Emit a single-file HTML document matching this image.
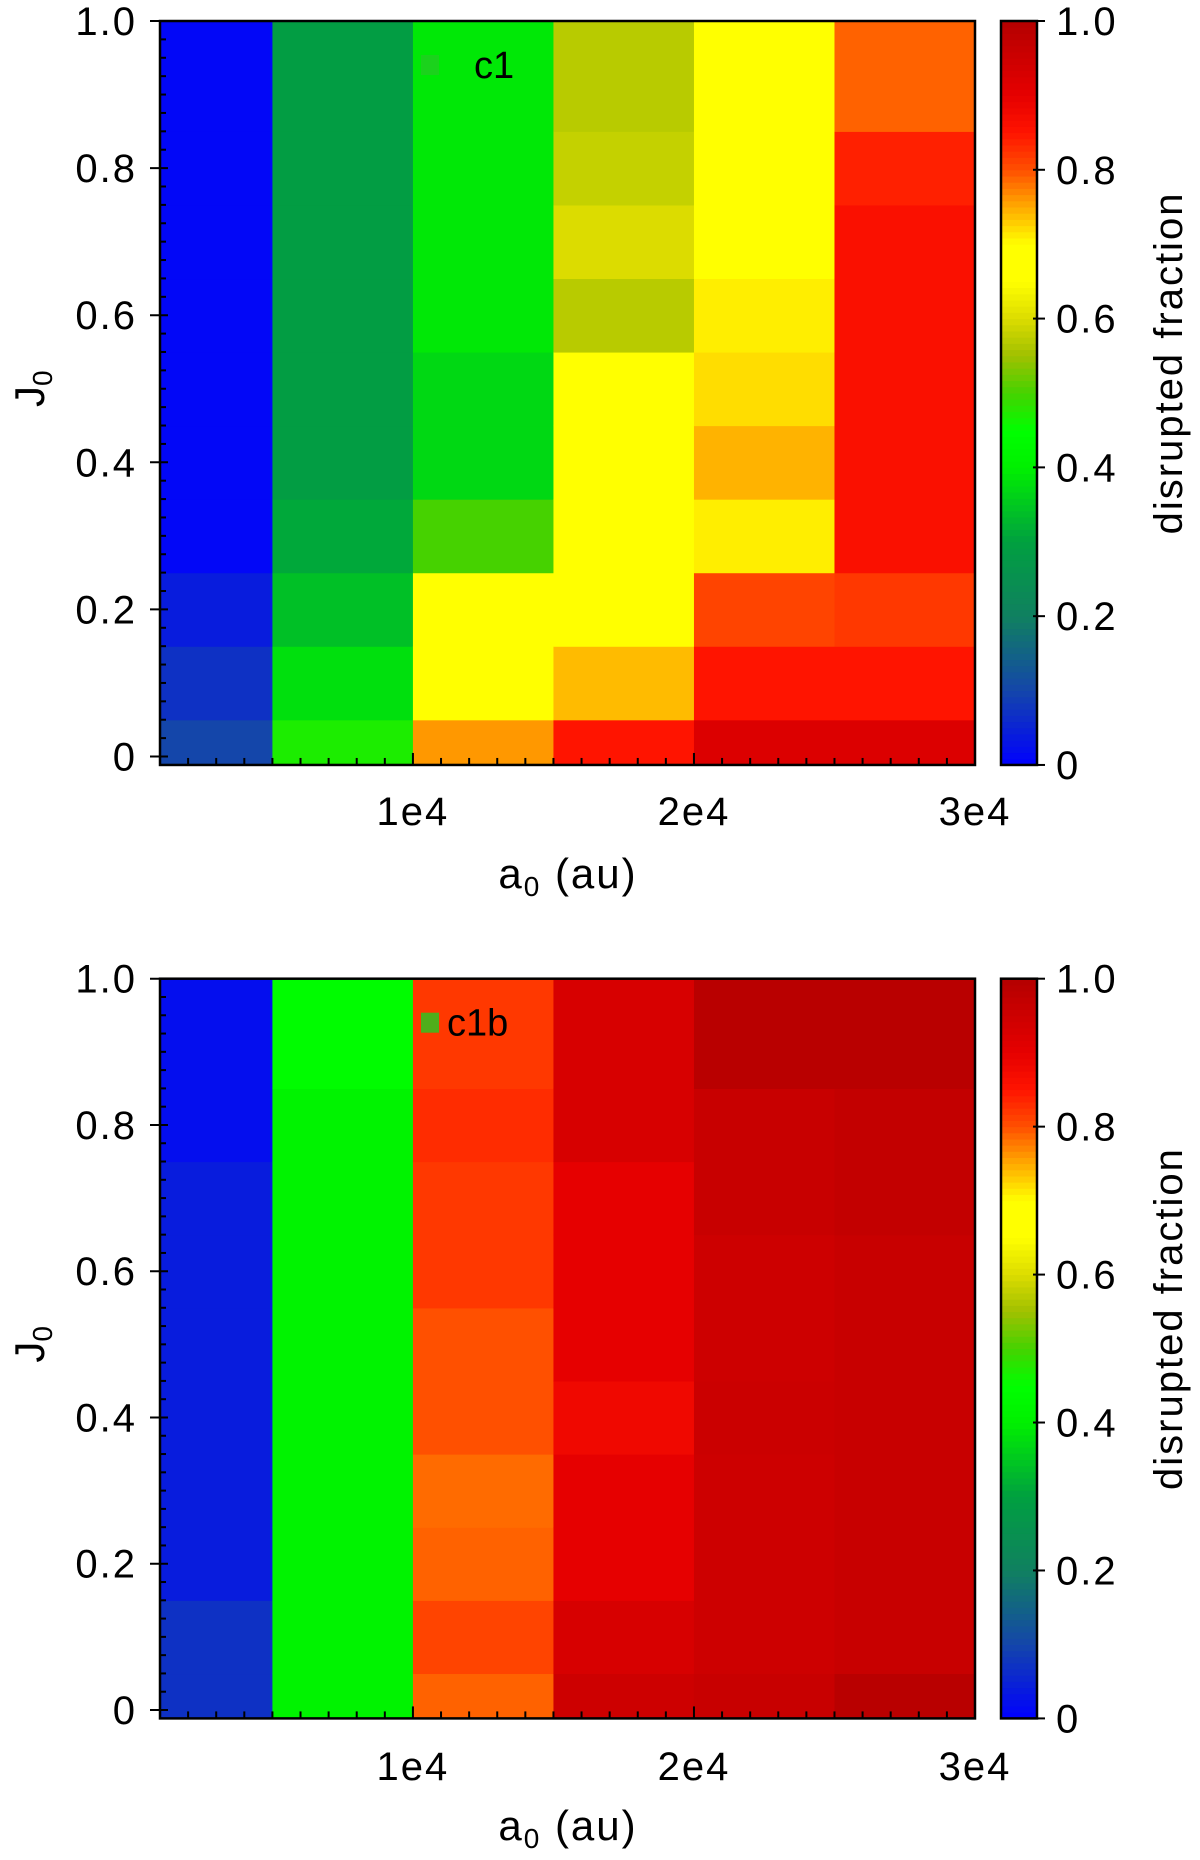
<!DOCTYPE html>
<html><head><meta charset="utf-8"><style>
html,body{margin:0;padding:0;background:#fff;}
svg{display:block;font-family:"Liberation Sans","DejaVu Sans",sans-serif;}
</style></head><body>
<svg id="fig" width="1200" height="1860" viewBox="0 0 1200 1860" xmlns="http://www.w3.org/2000/svg"></svg>
<script>
// ---- data ----
const colEdges = [1000, 5000, 10000, 15000, 20000, 25000, 30000];
const rowEdges = [-0.0115, 0.05, 0.15, 0.25, 0.35, 0.45, 0.55, 0.65, 0.75, 0.85, 1.0];
const xTickValues = [10000, 20000, 30000];
const xTickLabels = ["1e4", "2e4", "3e4"];
const yTickValues = [0, 0.2, 0.4, 0.6, 0.8, 1.0];
const yTickLabels = ["0", "0.2", "0.4", "0.6", "0.8", "1.0"];
// values per column, rows from J=0 (bottom) to top
const fracC1 = [
  [0.10, 0.07, 0.04, 0.01, 0.01, 0.01, 0.01, 0.01, 0.01, 0.01],
  [0.47, 0.38, 0.34, 0.31, 0.29, 0.29, 0.29, 0.29, 0.29, 0.29],
  [0.76, 0.68, 0.68, 0.50, 0.37, 0.37, 0.39, 0.39, 0.39, 0.39],
  [0.85, 0.74, 0.68, 0.68, 0.68, 0.68, 0.57, 0.60, 0.58, 0.57],
  [0.92, 0.85, 0.81, 0.71, 0.745, 0.72, 0.71, 0.68, 0.68, 0.68],
  [0.92, 0.85, 0.82, 0.86, 0.86, 0.86, 0.86, 0.86, 0.84, 0.79]
];
const fracC1b = [
  [0.07, 0.07, 0.04, 0.04, 0.04, 0.04, 0.04, 0.04, 0.02, 0.02],
  [0.41, 0.41, 0.41, 0.41, 0.41, 0.41, 0.41, 0.41, 0.41, 0.44],
  [0.79, 0.81, 0.79, 0.785, 0.80, 0.80, 0.82, 0.82, 0.83, 0.82],
  [0.95, 0.93, 0.90, 0.90, 0.88, 0.90, 0.90, 0.90, 0.93, 0.93],
  [0.96, 0.95, 0.95, 0.95, 0.955, 0.95, 0.95, 0.96, 0.96, 0.99],
  [0.99, 0.96, 0.96, 0.96, 0.96, 0.96, 0.96, 0.97, 0.97, 0.99]
];
const cmapStops = [0,0.1,0.2,0.3,0.4,0.45,0.5,0.55,0.6,0.65,0.7,0.75,0.8,0.85,0.9,1.0];
const cmapColors = [[0,0,255],[20,70,170],[16,128,96],[0,160,64],[0,240,0],[0,255,0],[70,210,0],[160,192,0],[220,220,0],[255,255,0],[255,255,0],[255,170,0],[255,80,0],[255,20,0],[230,0,0],[180,0,0]];
const cbTickValues = [0, 0.2, 0.4, 0.6, 0.8, 1.0];
const cbTickLabels = ["0", "0.2", "0.4", "0.6", "0.8", "1.0"];

const NS = "http://www.w3.org/2000/svg";
const svg = document.getElementById("fig");
function el(tag, attrs, parent, text){
  const e = document.createElementNS(NS, tag);
  for (const k in attrs) e.setAttribute(k, attrs[k]);
  if (text !== undefined) e.textContent = text;
  (parent || svg).appendChild(e);
  return e;
}
function cmap(v){
  v = Math.max(0, Math.min(1, v));
  for (let i = 1; i < cmapStops.length; i++){
    if (v <= cmapStops[i]){
      const t = (v - cmapStops[i-1]) / (cmapStops[i] - cmapStops[i-1]);
      const a = cmapColors[i-1], b = cmapColors[i];
      return "rgb(" + a.map((c,k)=>Math.round(c + (b[k]-c)*t)).join(",") + ")";
    }
  }
  return "rgb(180,0,0)";
}

function panel(cfg){
  const L = 160, R = 975, top = cfg.top, y0 = cfg.y0;
  const sx = a => L + (a - 1000) / (30000 - 1000) * (R - L);
  const sy = j => y0 - j * (y0 - top);
  const bottom = sy(-0.0115);
  const g = el("g", {}, svg);
  
  
  // cells
  for (let c = 0; c < colEdges.length - 1; c++){
    for (let r = 0; r < rowEdges.length - 1; r++){
      const x1 = sx(colEdges[c]), x2 = sx(colEdges[c+1]);
      const ya = sy(rowEdges[r+1]), yb = sy(rowEdges[r]);
      const rc = el("rect", {x: x1, y: ya, width: x2 - x1 + 0.6, height: yb - ya + 0.6, fill: cmap(cfg.data[c][r])}, g);
      
      
    }
  }
  // marker + label
  const mk = el("rect", {x: 421, y: cfg.top + 34, width: 18, height: 20, fill: "#22cc22", opacity: 0.8}, g);
  
  
  const lb = el("text", {x: cfg.labelX, y: cfg.top + 57, "font-size": 38, fill: "#000"}, g, cfg.label);
  
  
  // frame
  const fr = el("rect", {x: L, y: top, width: R - L, height: bottom - top, fill: "none", stroke: "#000", "stroke-width": 2.5}, g);
  
  
  // x minor/major ticks
  for (let a = 2000; a <= 30000; a += 1000){
    const major = a % 10000 === 0;
    el("line", {x1: sx(a), x2: sx(a), y1: bottom, y2: bottom - (major ? 12 : 7), stroke: "#000", "stroke-width": 2}, g);
  }
  xTickValues.forEach((v, i) => {
    const t = el("text", {x: sx(v), y: cfg.xLabelY, "font-size": 40, "text-anchor": "middle", "letter-spacing": 2}, g, xTickLabels[i]);
    
    
  });
  // y ticks
  for (let k = 0; k <= 40; k++){
    const j = k * 0.025;
    const major = k % 8 === 0;
    el("line", {x1: L - (major ? 10 : 0), x2: L + (major ? 8 : 6), y1: sy(j), y2: sy(j), stroke: "#000", "stroke-width": 2}, g);
  }
  yTickValues.forEach((v, i) => {
    const t = el("text", {x: 137, y: sy(v) + 14, "font-size": 40, "text-anchor": "end", "letter-spacing": 2}, g, yTickLabels[i]);
    
    
  });
  // axis titles
  const xt = el("text", {x: 568, y: cfg.xTitleY, "font-size": 42, "text-anchor": "middle", "letter-spacing": 2}, g);
  
  
  el("tspan", {}, xt, "a");
  el("tspan", {"font-size": 28, dy: 8}, xt, "0");
  el("tspan", {dy: -8}, xt, " (au)");
  const yt = el("text", {transform: "translate(44," + ((top + y0) / 2) + ") rotate(-90)", "font-size": 42, "text-anchor": "middle"}, g);
  
  
  el("tspan", {}, yt, "J");
  el("tspan", {"font-size": 28, dy: 8}, yt, "0");
  // colorbar
  const cbL = 1001, cbR = 1037, cbTop = top, cbBot = bottom;
  const cbs = v => cbBot - v * (cbBot - cbTop);
  const cg = el("g", {}, g);
  
  
  const N = 120;
  for (let i = 0; i < N; i++){
    const v0 = i / N, v1 = (i + 1) / N;
    el("rect", {x: cbL, y: cbs(v1), width: cbR - cbL, height: cbs(v0) - cbs(v1) + 0.5, fill: cmap((v0 + v1) / 2)}, cg);
  }
  el("rect", {x: cbL, y: cbTop, width: cbR - cbL, height: cbBot - cbTop, fill: "none", stroke: "#000", "stroke-width": 2.5}, cg);
  cbTickValues.forEach((v, i) => {
    el("line", {x1: cbR - 4, x2: cbR + 8, y1: cbs(v), y2: cbs(v), stroke: "#000", "stroke-width": 2}, cg);
    const t = el("text", {x: 1056, y: cbs(v) + 14, "font-size": 40, "letter-spacing": 2}, cg, cbTickLabels[i]);
    
    
  });
  const ct = el("text", {transform: "translate(1182," + ((cbTop + cbBot) / 2 - 30) + ") rotate(-90)", "font-size": 40, "text-anchor": "middle", "letter-spacing": 2}, cg, "disrupted fraction");
  
  
}

panel({name: "panel-c1", top: 21, y0: 756.5, data: fracC1, label: "c1", labelX: 474, xLabelY: 825, xTitleY: 888});
panel({name: "panel-c1b", top: 978.7, y0: 1710, data: fracC1b, label: "c1b", labelX: 447, xLabelY: 1780, xTitleY: 1840});
</script>
</body></html>
